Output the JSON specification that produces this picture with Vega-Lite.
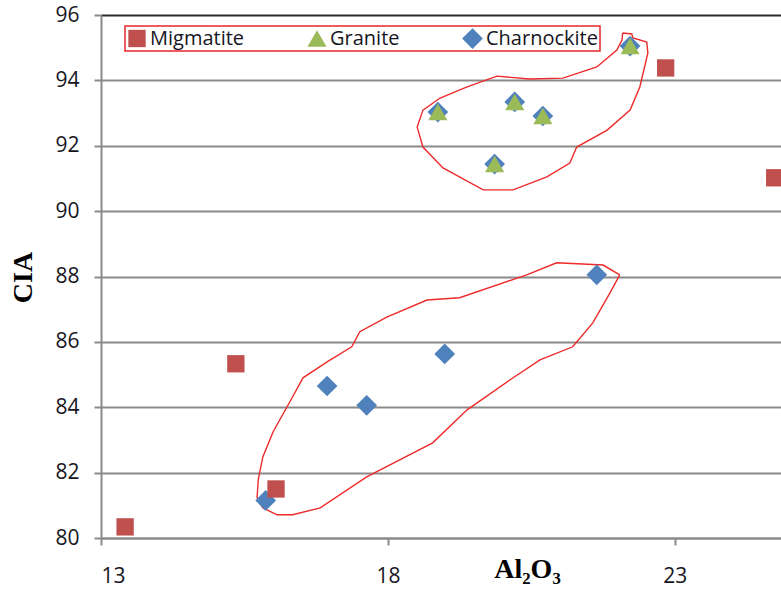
{
  "$schema": "https://vega.github.io/schema/vega-lite/v6.json",
  "width": 680,
  "height": 523,
  "autosize": {"type": "none"},
  "padding": {"left": 101, "top": 15, "right": 0, "bottom": 54},
  "background": "white",
  "config": {
    "view": {"stroke": null},
    "axis": {
      "labelFont": "Open Sans",
      "labelFontSize": 21,
      "labelColor": "#161622",
      "titleFont": "Liberation Serif",
      "titleFontWeight": "bold",
      "titleFontSize": 28,
      "titleColor": "#000000",
      "domainColor": "#8a8a8a",
      "domainWidth": 2,
      "tickColor": "#8a8a8a",
      "tickWidth": 2,
      "tickSize": 7
    },
    "legend": {
      "orient": "none",
      "legendX": 24,
      "legendY": 11,
      "direction": "horizontal",
      "strokeColor": "#e8262a",
      "strokeWidth": 1.5,
      "padding": 2,
      "labelFont": "Open Sans",
      "labelFontSize": 20,
      "labelColor": "#161622",
      "symbolSize": 220,
      "symbolStrokeWidth": 0,
      "labelOffset": 3,
      "columnPadding": 62,
      "title": null
    }
  },
  "datasets": {
    "samples": [
      {"rock": "Charnockite", "al2o3": 15.87, "cia": 81.15},
      {"rock": "Charnockite", "al2o3": 16.94, "cia": 84.65},
      {"rock": "Charnockite", "al2o3": 17.63, "cia": 84.06},
      {"rock": "Charnockite", "al2o3": 18.99, "cia": 85.63},
      {"rock": "Charnockite", "al2o3": 21.64, "cia": 88.05},
      {"rock": "Charnockite", "al2o3": 18.87, "cia": 93.03},
      {"rock": "Charnockite", "al2o3": 20.21, "cia": 93.34},
      {"rock": "Charnockite", "al2o3": 20.7, "cia": 92.91},
      {"rock": "Charnockite", "al2o3": 19.86, "cia": 91.44},
      {"rock": "Charnockite", "al2o3": 22.22, "cia": 95.05},
      {"rock": "Granite", "al2o3": 18.87, "cia": 93.03},
      {"rock": "Granite", "al2o3": 20.21, "cia": 93.34},
      {"rock": "Granite", "al2o3": 20.7, "cia": 92.91},
      {"rock": "Granite", "al2o3": 19.86, "cia": 91.44},
      {"rock": "Granite", "al2o3": 22.22, "cia": 95.05},
      {"rock": "Migmatite", "al2o3": 13.42, "cia": 80.34},
      {"rock": "Migmatite", "al2o3": 15.35, "cia": 85.33},
      {"rock": "Migmatite", "al2o3": 16.05, "cia": 81.5},
      {"rock": "Migmatite", "al2o3": 22.84, "cia": 94.38},
      {"rock": "Migmatite", "al2o3": 24.74, "cia": 91.02}
    ],
    "outlines": [
      {"ring": "lower", "seq": 1, "al2o3": 22.04, "cia": 88.05},
      {"ring": "lower", "seq": 2, "al2o3": 21.75, "cia": 88.35},
      {"ring": "lower", "seq": 3, "al2o3": 20.94, "cia": 88.42},
      {"ring": "lower", "seq": 4, "al2o3": 20.42, "cia": 88.05},
      {"ring": "lower", "seq": 5, "al2o3": 19.25, "cia": 87.35},
      {"ring": "lower", "seq": 6, "al2o3": 18.68, "cia": 87.28},
      {"ring": "lower", "seq": 7, "al2o3": 17.98, "cia": 86.76},
      {"ring": "lower", "seq": 8, "al2o3": 17.51, "cia": 86.31},
      {"ring": "lower", "seq": 9, "al2o3": 17.37, "cia": 85.85},
      {"ring": "lower", "seq": 10, "al2o3": 16.94, "cia": 85.39},
      {"ring": "lower", "seq": 11, "al2o3": 16.52, "cia": 84.9},
      {"ring": "lower", "seq": 12, "al2o3": 16.34, "cia": 84.32},
      {"ring": "lower", "seq": 13, "al2o3": 16.0, "cia": 83.25},
      {"ring": "lower", "seq": 14, "al2o3": 15.82, "cia": 82.48},
      {"ring": "lower", "seq": 15, "al2o3": 15.74, "cia": 81.78},
      {"ring": "lower", "seq": 16, "al2o3": 15.72, "cia": 81.23},
      {"ring": "lower", "seq": 17, "al2o3": 15.82, "cia": 80.92},
      {"ring": "lower", "seq": 18, "al2o3": 16.07, "cia": 80.71},
      {"ring": "lower", "seq": 19, "al2o3": 16.34, "cia": 80.71},
      {"ring": "lower", "seq": 20, "al2o3": 16.82, "cia": 80.92},
      {"ring": "lower", "seq": 21, "al2o3": 17.63, "cia": 81.87},
      {"ring": "lower", "seq": 22, "al2o3": 18.78, "cia": 82.91},
      {"ring": "lower", "seq": 23, "al2o3": 19.38, "cia": 83.92},
      {"ring": "lower", "seq": 24, "al2o3": 20.13, "cia": 84.84},
      {"ring": "lower", "seq": 25, "al2o3": 20.65, "cia": 85.45},
      {"ring": "lower", "seq": 26, "al2o3": 21.22, "cia": 85.85},
      {"ring": "lower", "seq": 27, "al2o3": 21.57, "cia": 86.58},
      {"ring": "lower", "seq": 28, "al2o3": 21.87, "cia": 87.5},
      {"ring": "lower", "seq": 29, "al2o3": 22.04, "cia": 88.05},
      {"ring": "upper", "seq": 1, "al2o3": 22.09, "cia": 95.45},
      {"ring": "upper", "seq": 2, "al2o3": 22.25, "cia": 95.42},
      {"ring": "upper", "seq": 3, "al2o3": 22.27, "cia": 95.3},
      {"ring": "upper", "seq": 4, "al2o3": 22.51, "cia": 95.17},
      {"ring": "upper", "seq": 5, "al2o3": 22.53, "cia": 94.84},
      {"ring": "upper", "seq": 6, "al2o3": 22.39, "cia": 93.8},
      {"ring": "upper", "seq": 7, "al2o3": 22.22, "cia": 93.09},
      {"ring": "upper", "seq": 8, "al2o3": 21.82, "cia": 92.48},
      {"ring": "upper", "seq": 9, "al2o3": 21.29, "cia": 91.96},
      {"ring": "upper", "seq": 10, "al2o3": 21.17, "cia": 91.47},
      {"ring": "upper", "seq": 11, "al2o3": 20.77, "cia": 91.05},
      {"ring": "upper", "seq": 12, "al2o3": 20.18, "cia": 90.65},
      {"ring": "upper", "seq": 13, "al2o3": 19.66, "cia": 90.65},
      {"ring": "upper", "seq": 14, "al2o3": 18.96, "cia": 91.32},
      {"ring": "upper", "seq": 15, "al2o3": 18.61, "cia": 91.96},
      {"ring": "upper", "seq": 16, "al2o3": 18.51, "cia": 92.57},
      {"ring": "upper", "seq": 17, "al2o3": 18.61, "cia": 93.09},
      {"ring": "upper", "seq": 18, "al2o3": 18.91, "cia": 93.46},
      {"ring": "upper", "seq": 19, "al2o3": 19.38, "cia": 93.8},
      {"ring": "upper", "seq": 20, "al2o3": 19.9, "cia": 94.13},
      {"ring": "upper", "seq": 21, "al2o3": 20.47, "cia": 94.04},
      {"ring": "upper", "seq": 22, "al2o3": 21.05, "cia": 94.07},
      {"ring": "upper", "seq": 23, "al2o3": 21.64, "cia": 94.41},
      {"ring": "upper", "seq": 24, "al2o3": 21.99, "cia": 94.93},
      {"ring": "upper", "seq": 25, "al2o3": 22.08, "cia": 95.24},
      {"ring": "upper", "seq": 26, "al2o3": 22.09, "cia": 95.45}
    ]
  },
  "encoding": {
    "x": {
      "field": "al2o3",
      "type": "quantitative",
      "scale": {"domain": [13, 24.85], "nice": false, "zero": false},
      "axis": {
        "title": "Al₂O₃",
        "values": [13, 18, 23],
        "grid": false,
        "labelPadding": 20,
        "titleX": 426,
        "titleY": 31,
        "titleAlign": "center",
        "titleBaseline": "middle"
      }
    },
    "y": {
      "field": "cia",
      "type": "quantitative",
      "scale": {"domain": [80, 96], "nice": false, "zero": false},
      "axis": {
        "title": "CIA",
        "values": [80, 82, 84, 86, 88, 90, 92, 94, 96],
        "grid": true,
        "gridColor": {"condition": {"test": "datum.value == 96", "value": "#2a2a2a"}, "value": "#8a8a8a"},
        "gridWidth": 2,
        "labelPadding": 15,
        "titleX": -78,
        "titleY": 262,
        "titleAlign": "center",
        "titleBaseline": "middle"
      }
    }
  },
  "layer": [
    {
      "data": {"name": "outlines"},
      "mark": {"type": "line", "color": "#ee2a2a", "strokeWidth": 1.4, "clip": false},
      "encoding": {
        "detail": {"field": "ring"},
        "order": {"field": "seq", "type": "quantitative"}
      }
    },
    {
      "data": {"name": "samples"},
      "mark": {"type": "point", "filled": true, "opacity": 1, "strokeWidth": 0},
      "encoding": {
        "color": {
          "field": "rock",
          "type": "nominal",
          "scale": {"domain": ["Migmatite", "Granite", "Charnockite"], "range": ["#c0504d", "#9bbb59", "#4f81bd"]},
          "legend": {"title": null}
        },
        "shape": {
          "field": "rock",
          "type": "nominal",
          "scale": {"domain": ["Migmatite", "Granite", "Charnockite"], "range": ["square", "triangle-up", "diamond"]},
          "legend": {"title": null}
        },
        "size": {
          "field": "rock",
          "type": "nominal",
          "scale": {"domain": ["Migmatite", "Granite", "Charnockite"], "range": [300, 430, 300]},
          "legend": null
        }
      }
    }
  ]
}
